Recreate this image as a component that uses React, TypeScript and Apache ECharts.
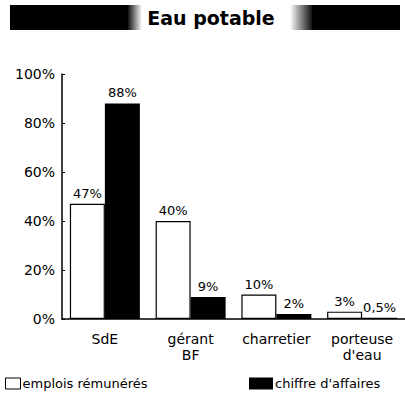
import React, { useEffect, useRef } from "react";
import * as echarts from "echarts";

const categories = ["SdE", "gérant\nBF", "charretier", "porteuse\nd'eau"];
const emplois = [47, 40, 10, 3];
const chiffre = [88, 9, 2, 0.5];
const seriesNames = ["emplois rémunérés", "chiffre d'affaires"];
const title = "Eau potable";

const FONT = "DejaVu Sans";

export default function App() {
  const ref = useRef<HTMLDivElement>(null);
  useEffect(() => {
    if (!ref.current) return;
    const chart = echarts.init(ref.current, null, { renderer: "svg" });
    const fmt = (p: any) => String(p.value).replace(".", ",") + "%";
    chart.setOption({
      animation: false,
      backgroundColor: "#fff",
      textStyle: { fontFamily: FONT, color: "#000" },
      graphic: [
        { type: "rect", shape: { x: 10, y: 5, width: 118, height: 25 }, style: { fill: "#000" } },
        {
          type: "rect",
          shape: { x: 128, y: 5, width: 14, height: 25 },
          style: {
            fill: new echarts.graphic.LinearGradient(0, 0, 1, 0, [
              { offset: 0, color: "#111" },
              { offset: 1, color: "#fff" },
            ]),
          },
        },
        {
          type: "rect",
          shape: { x: 290, y: 5, width: 22, height: 25 },
          style: {
            fill: new echarts.graphic.LinearGradient(0, 0, 1, 0, [
              { offset: 0, color: "#fff" },
              { offset: 1, color: "#111" },
            ]),
          },
        },
        { type: "rect", shape: { x: 312, y: 5, width: 88, height: 25 }, style: { fill: "#000" } },
        {
          type: "text",
          x: 211,
          y: 18,
          style: {
            text: title,
            font: `bold 19px "${FONT}"`,
            fill: "#000",
            align: "center",
            verticalAlign: "middle",
          },
        },
      ],
      legend: [
        {
          data: [seriesNames[0]],
          icon: "rect",
          left: 5,
          top: 377,
          itemWidth: 15,
          itemHeight: 11,
          itemGap: 4,
          padding: 0,
          itemStyle: { color: "#fff", borderColor: "#000", borderWidth: 1 },
          textStyle: { fontFamily: FONT, fontSize: 13, color: "#000", padding: [0, 0, 0, -3] },
        },
        {
          data: [seriesNames[1]],
          icon: "rect",
          left: 249,
          top: 377,
          itemWidth: 24,
          itemHeight: 12,
          padding: 0,
          textStyle: { fontFamily: FONT, fontSize: 13, color: "#000", padding: [0, 0, 0, -3] },
        },
      ],
      grid: { left: 62, top: 74, width: 352, height: 245 },
      xAxis: {
        type: "category",
        data: categories,
        axisLine: { lineStyle: { color: "#000", width: 1.5 } },
        axisTick: { inside: true, length: 5, lineStyle: { color: "#000" } },
        axisLabel: { interval: 0, color: "#000", fontFamily: FONT, fontSize: 14, margin: 12, lineHeight: 16 },
      },
      yAxis: {
        type: "value",
        min: 0,
        max: 100,
        interval: 20,
        axisLine: { show: true, lineStyle: { color: "#000", width: 1.5 } },
        axisTick: { show: true, inside: true, length: 3, lineStyle: { color: "#000" } },
        splitLine: { show: false },
        axisLabel: { color: "#000", fontFamily: FONT, fontSize: 14, margin: 7, formatter: "{value}%" },
      },
      series: [
        {
          name: seriesNames[0],
          type: "bar",
          data: emplois,
          barWidth: 35,
          barGap: "0%",
          itemStyle: { color: "#fff", borderColor: "#000", borderWidth: 1.2 },
          label: { show: true, position: "top", distance: 4, color: "#000", fontFamily: FONT, fontSize: 13, formatter: fmt },
        },
        {
          name: seriesNames[1],
          type: "bar",
          data: chiffre,
          barWidth: 35,
          barGap: "0%",
          itemStyle: { color: "#000" },
          label: { show: true, position: "top", distance: 4, color: "#000", fontFamily: FONT, fontSize: 13, formatter: fmt },
        },
      ],
    });
    return () => chart.dispose();
  }, []);
  return (
    <div
      ref={ref}
      style={{ position: "fixed", left: 0, top: 0, width: 405, height: 400, background: "#fff" }}
    />
  );
}
